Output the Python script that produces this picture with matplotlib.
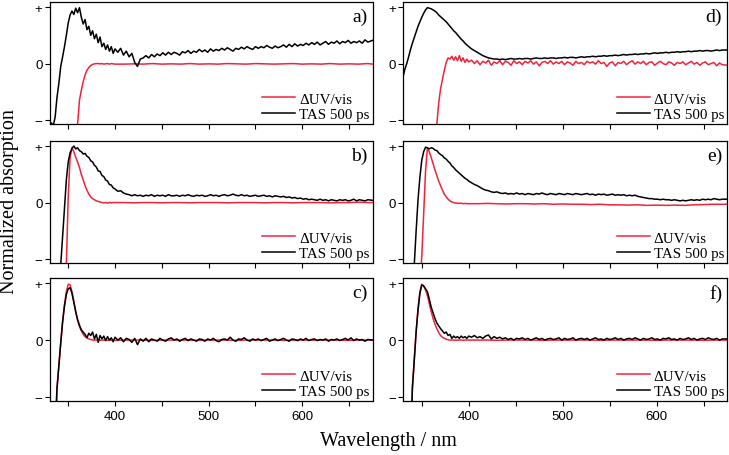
import numpy as np
import matplotlib
matplotlib.use("Agg")
import matplotlib.pyplot as plt
from matplotlib.ticker import FixedLocator

# ---------------- data ----------------
# wavelength grid for TAS (and noisy dUV in d)
wl_g = [330, 332, 334, 336, 338, 340, 342, 344, 346, 348,
        350, 352, 354, 356, 358, 360, 362, 364, 366, 368,
        370, 372, 374, 376, 378, 380, 382, 384, 386, 388,
        390, 392, 394, 396, 398, 400,
        403, 406, 409, 412, 415, 418, 421, 424, 427, 430,
        433, 436, 439, 442, 445, 448, 451, 454, 457, 460,
        463, 466, 469, 472, 475, 478, 481, 484, 487, 490,
        493, 496, 499, 502, 505, 508, 511, 514, 517, 520,
        523, 526, 529, 532, 535, 538, 541, 544, 547, 550,
        553, 556, 559, 562, 565, 568, 571, 574, 577, 580,
        583, 586, 589, 592, 595, 598, 601, 604, 607, 610,
        613, 616, 619, 622, 625, 628, 631, 634, 637, 640,
        643, 646, 649, 652, 655, 658, 661, 664, 667, 670,
        675]
# wavelength grid for smooth dUV/vis traces
wl_r = [330, 332, 334, 336, 338, 340, 342, 344, 346, 348,
        350, 352, 354, 356, 358, 360, 362, 364, 366, 368,
        370, 372, 374, 376, 378, 380, 382, 384, 386, 388,
        390, 392, 394, 396, 398, 400,
        410, 420, 430, 440, 450, 460, 470, 480, 490, 500,
        510, 520, 530, 540, 550, 560, 570, 580, 590, 600,
        610, 620, 630, 640, 650, 660, 670,
        675]

tas_a = [-1.2, -1.05, -1.1, -0.95, -0.6, -0.35, -0.05, 0.12, 0.3, 0.5,
         0.72, 0.86, 0.93, 0.87, 0.98, 0.9, 0.99, 0.82, 0.7, 0.78,
         0.6, 0.66, 0.5, 0.58, 0.44, 0.52, 0.37, 0.47, 0.3, 0.36,
         0.25, 0.33, 0.22, 0.3, 0.18, 0.26,
         0.2, 0.27, 0.15, 0.22, 0.12, 0.18, 0.02, -0.05, 0.08, 0.1,
         0.14, 0.1, 0.16, 0.12, 0.17, 0.14, 0.19, 0.15, 0.2, 0.16,
         0.2, 0.18, 0.15, 0.21, 0.19, 0.23, 0.18, 0.22, 0.2, 0.25,
         0.21, 0.24, 0.2, 0.26, 0.22, 0.25, 0.23, 0.27, 0.24, 0.28,
         0.25, 0.22, 0.27, 0.25, 0.29, 0.26, 0.3, 0.27, 0.25, 0.3,
         0.27, 0.3, 0.28, 0.32, 0.29, 0.27, 0.31, 0.28, 0.3, 0.33,
         0.29, 0.34, 0.3, 0.35, 0.31, 0.34, 0.32, 0.36, 0.33, 0.37,
         0.34, 0.38, 0.33, 0.36, 0.39, 0.34, 0.38, 0.36, 0.4, 0.35,
         0.39, 0.37, 0.41, 0.36, 0.39, 0.37, 0.4, 0.36, 0.42, 0.38,
         0.41]
uv_a = [-2, -2, -2, -2, -2, -2, -2, -2, -2, -2,
        -2, -2, -2, -2, -2, -1.08, -0.65, -0.47, -0.32, -0.2,
        -0.12, -0.07, -0.035, -0.015, -0.005, 0.0, 0.0, -0.005, 0.0, -0.01,
        -0.005, 0.0, -0.01, 0.0, -0.005, -0.01,
        -0.01, -0.005, -0.01, 0.0, -0.01, -0.005, -0.01, 0.0, -0.01, -0.005,
        -0.01, 0.0, -0.005, -0.01, 0.0, -0.005, -0.01, -0.005, 0.0, -0.01,
        -0.005, -0.01, 0.0, -0.01, -0.005, -0.01, 0.0,
        -0.01]

tas_b = [-2, -2, -2, -2, -2, -2, -1.1, -0.6, -0.1, 0.4,
         0.72, 0.88, 0.96, 1.0, 0.95, 0.97, 0.92, 0.9, 0.86, 0.87,
         0.82, 0.8, 0.74, 0.72, 0.66, 0.63, 0.56, 0.55, 0.48, 0.46,
         0.4, 0.38, 0.32, 0.31, 0.26, 0.24,
         0.2, 0.21, 0.17, 0.15, 0.14, 0.12, 0.14, 0.12, 0.13, 0.11,
         0.13, 0.12, 0.14, 0.11, 0.13, 0.12, 0.13, 0.11, 0.14, 0.12,
         0.12, 0.13, 0.11, 0.13, 0.12, 0.14, 0.12, 0.11, 0.13, 0.12,
         0.13, 0.11, 0.12, 0.14, 0.12, 0.13, 0.11, 0.13, 0.14, 0.12,
         0.13, 0.15, 0.13, 0.12, 0.14, 0.12, 0.13, 0.11, 0.12, 0.13,
         0.11, 0.12, 0.13, 0.11, 0.12, 0.1, 0.12, 0.11, 0.1, 0.11,
         0.09, 0.1, 0.08, 0.09, 0.07, 0.08, 0.06, 0.07, 0.05, 0.06,
         0.05, 0.04, 0.06, 0.04, 0.05, 0.03, 0.05, 0.04, 0.03, 0.05,
         0.04, 0.05, 0.03, 0.04, 0.06, 0.03, 0.05, 0.04, 0.03, 0.05,
         0.04]
uv_b = [-2, -2, -2, -2, -2, -2, -2, -2, -2, -1.1,
        0.1, 0.8, 0.97, 0.9, 0.8, 0.72, 0.62, 0.5, 0.4, 0.3,
        0.22, 0.15, 0.1, 0.07, 0.05, 0.03, 0.02, 0.01, 0.0, -0.005,
        0.0, -0.01, 0.0, -0.005, 0.0, 0.0,
        0.0, -0.005, 0.0, 0.0, -0.005, 0.0, 0.0, -0.005, 0.0, 0.0,
        0.0, -0.005, 0.0, 0.0, 0.0, -0.005, 0.0, 0.0, -0.005, 0.0,
        0.0, 0.0, -0.005, 0.0, 0.0, 0.005, 0.0,
        0.0]

tas_c = [-2, -2, -2, -2, -0.85, -0.45, -0.05, 0.32, 0.6, 0.8,
         0.9, 0.92, 0.82, 0.66, 0.5, 0.36, 0.26, 0.18, 0.14, 0.1,
         0.04, 0.12, 0.08, 0.14, 0.02, 0.1, -0.04, 0.08, 0.02, 0.07,
         -0.01, 0.06, 0.0, 0.04, -0.03, 0.05,
         0.0, 0.04, -0.03, 0.03, 0.01, -0.04, 0.03, -0.08, 0.02, -0.02,
         0.03, -0.03, 0.02, 0.0, -0.02, 0.03, 0.0, -0.02, 0.02, 0.04,
         0.0, 0.02, -0.02, 0.01, 0.03, -0.01, 0.02, 0.0, -0.02, 0.02,
         0.01, -0.02, 0.02, 0.0, 0.03, -0.01, -0.03, 0.01, 0.02, 0.0,
         0.05, 0.0, -0.02, 0.02, 0.01, 0.04, 0.0, -0.02, 0.02, 0.0,
         0.02, -0.01, 0.01, 0.03, -0.02, 0.0, 0.02, -0.01, 0.01, 0.03,
         0.0, -0.02, 0.02, 0.01, -0.01, 0.02, 0.0, 0.03, -0.01, 0.01,
         0.02, -0.01, 0.01, 0.0, 0.02, -0.02, 0.01, 0.0, 0.02, -0.01,
         0.01, 0.03, 0.0, 0.04, -0.01, 0.02, 0.0, 0.01, -0.02, 0.01,
         0.0]
uv_c = [-2, -2, -2, -1.4, -0.85, -0.45, -0.05, 0.32, 0.62, 0.85,
        0.98, 0.97, 0.85, 0.68, 0.5, 0.35, 0.24, 0.16, 0.1, 0.06,
        0.04, 0.02, 0.01, 0.0, 0.0, 0.0, 0.0, -0.005, 0.0, 0.0,
        0.0, -0.005, 0.0, 0.0, 0.0, -0.005,
        0.0, 0.0, 0.0, -0.005, 0.0, 0.0, 0.0, 0.0, -0.005, 0.0,
        0.0, 0.0, -0.005, 0.0, 0.0, 0.0, 0.0, -0.005, 0.0, 0.0,
        0.0, 0.0, 0.0, 0.0, -0.005, 0.0, 0.0,
        0.0]

tas_d = [-0.24, -0.1, 0.0, 0.12, 0.25, 0.36, 0.46, 0.56, 0.66, 0.74,
         0.82, 0.89, 0.95, 0.99, 0.98, 0.97, 0.95, 0.93, 0.9, 0.86,
         0.83, 0.8, 0.77, 0.74, 0.7, 0.66, 0.62, 0.58, 0.55, 0.51,
         0.47, 0.43, 0.4, 0.36, 0.33, 0.3,
         0.26, 0.23, 0.2, 0.17, 0.14, 0.12, 0.1, 0.09, 0.08, 0.08,
         0.07, 0.08, 0.07, 0.08, 0.09, 0.08, 0.08, 0.09, 0.08, 0.09,
         0.09, 0.08, 0.09, 0.1, 0.09, 0.09, 0.1, 0.09, 0.1, 0.1,
         0.09, 0.1, 0.1, 0.11, 0.1, 0.11, 0.11, 0.1, 0.11, 0.12,
         0.11, 0.12, 0.12, 0.13, 0.12, 0.13, 0.13, 0.14, 0.13, 0.14,
         0.14, 0.15, 0.14, 0.15, 0.16, 0.15, 0.16, 0.16, 0.17, 0.16,
         0.17, 0.17, 0.18, 0.17, 0.18, 0.19, 0.18, 0.19, 0.19, 0.2,
         0.19, 0.2, 0.2, 0.21, 0.2, 0.21, 0.21, 0.22, 0.21, 0.22,
         0.22, 0.23, 0.22, 0.23, 0.23, 0.22, 0.23, 0.24, 0.23, 0.24,
         0.24]
uv_d = [-2, -2, -2, -2, -2, -2, -2, -2, -2, -2,
        -2, -2, -2, -2, -2, -2, -2, -2, -1.08, -0.7,
        -0.45, -0.28, -0.12, 0.02, 0.1, 0.08, 0.13, 0.06, 0.12, 0.05,
        0.14, 0.04, 0.1, 0.02, 0.08, 0.03,
        0.06, 0.0, 0.05, -0.02, 0.04, 0.01, 0.06, -0.03, 0.03, 0.0,
        0.05, -0.02, 0.04, 0.02, -0.03, 0.05, 0.0, 0.03, -0.02, 0.04,
        0.01, 0.05, -0.01, 0.03, -0.04, 0.02, 0.04, 0.0, 0.05, -0.01,
        0.03, 0.0, 0.04, -0.02, 0.03, 0.01, -0.03, 0.04, 0.0, 0.02,
        -0.02, 0.04, 0.01, 0.03, -0.01, 0.05, 0.0, 0.02, -0.05, 0.01,
        0.03, -0.04, 0.02, 0.0, 0.04, -0.02, 0.02, 0.05, -0.01, 0.03,
        0.0, 0.04, -0.02, 0.02, 0.03, -0.03, 0.01, 0.04, 0.0, -0.02,
        0.03, 0.01, -0.03, 0.02, 0.0, 0.03, -0.02, 0.01, 0.04, -0.01,
        0.02, -0.03, 0.01, 0.03, -0.02, 0.0, 0.02, -0.04, 0.01, -0.02,
        -0.03]

tas_e = [-2, -2, -2, -2, -2, -2, -1.1, -0.5, 0.05, 0.45,
         0.75, 0.9, 0.98, 0.97, 0.95, 0.97, 0.96, 0.93, 0.92, 0.88,
         0.85, 0.83, 0.79, 0.77, 0.73, 0.7, 0.65, 0.62, 0.58, 0.55,
         0.52, 0.49, 0.46, 0.43, 0.41, 0.38,
         0.35, 0.32, 0.3, 0.27, 0.24, 0.22, 0.21, 0.19, 0.18, 0.19,
         0.17, 0.16, 0.17, 0.15, 0.16, 0.15, 0.17, 0.15, 0.16, 0.14,
         0.16, 0.15, 0.14, 0.16, 0.15, 0.17, 0.15, 0.14, 0.16, 0.15,
         0.14, 0.16, 0.15, 0.14, 0.16, 0.15, 0.14, 0.16, 0.15, 0.14,
         0.15, 0.16, 0.14, 0.15, 0.13, 0.15, 0.14, 0.15, 0.13, 0.14,
         0.15, 0.13, 0.14, 0.13, 0.14, 0.12, 0.13, 0.12, 0.13, 0.11,
         0.1, 0.09, 0.08, 0.07, 0.07, 0.06, 0.06, 0.05, 0.06, 0.05,
         0.05, 0.04, 0.05, 0.04, 0.03, 0.04, 0.03, 0.04, 0.05, 0.04,
         0.05, 0.04, 0.06, 0.05, 0.06, 0.05, 0.07, 0.06, 0.05, 0.06,
         0.06]
uv_e = [-2, -2, -2, -2, -2, -2, -2, -2, -2, -1.5,
        -0.95, -0.2, 0.55, 0.97, 0.9, 0.8, 0.69, 0.58, 0.48, 0.38,
        0.3, 0.22, 0.15, 0.1, 0.06, 0.03, 0.01, 0.0, -0.01, -0.01,
        -0.015, -0.01, -0.02, -0.015, -0.02, -0.02,
        -0.02, -0.015, -0.02, -0.025, -0.02, -0.02, -0.025, -0.02, -0.03, -0.025,
        -0.03, -0.03, -0.035, -0.03, -0.04, -0.04, -0.045, -0.04, -0.05, -0.045,
        -0.05, -0.045, -0.05, -0.04, -0.035, -0.03, -0.03,
        -0.03]

tas_f = [-2, -2, -2, -2, -2, -0.84, -0.35, 0.15, 0.53, 0.82,
         0.97, 0.95, 0.9, 0.85, 0.72, 0.58, 0.48, 0.38, 0.3, 0.25,
         0.2, 0.16, 0.12, 0.14, 0.08, 0.1, 0.03, 0.07, 0.04, 0.06,
         0.03, 0.07, 0.04, 0.06, 0.03, 0.07,
         0.05, 0.08, 0.04, 0.06, 0.03, 0.07, 0.09, 0.02, 0.06, 0.03,
         0.05, 0.02, 0.04, 0.01, 0.03, 0.0, 0.03, 0.02, 0.04, 0.01,
         0.03, 0.0, 0.02, 0.04, 0.01, 0.03, 0.0, 0.02, 0.03, 0.01,
         0.02, 0.04, 0.0, 0.03, 0.01, 0.02, 0.04, 0.0, 0.02, 0.03,
         0.01, 0.03, 0.0, 0.02, 0.04, 0.01, 0.02, 0.0, 0.03, 0.01,
         0.02, 0.04, 0.01, 0.03, 0.0, 0.02, 0.03, 0.01, 0.04, 0.02,
         0.0, 0.03, 0.01, 0.02, 0.04, 0.01, 0.02, 0.0, 0.03, 0.02,
         0.04, 0.01, 0.02, 0.0, 0.03, 0.01, 0.02, 0.04, 0.01, 0.03,
         0.0, 0.02, 0.03, 0.01, 0.04, 0.02, 0.01, 0.03, 0.0, 0.02,
         0.02]
uv_f = [-2, -2, -2, -2, -2, -0.84, -0.35, 0.15, 0.55, 0.85,
        0.98, 0.95, 0.88, 0.78, 0.64, 0.5, 0.38, 0.28, 0.2, 0.13,
        0.08, 0.05, 0.03, 0.015, 0.005, 0.0, 0.0, 0.0, -0.005, 0.0,
        0.0, 0.0, -0.005, 0.0, 0.0, 0.0,
        0.0, 0.0, -0.005, 0.0, 0.0, 0.0, 0.0, -0.005, 0.0, 0.0,
        0.0, 0.0, 0.0, -0.005, 0.0, 0.0, 0.0, 0.0, 0.0, -0.005,
        0.0, 0.0, 0.0, 0.0, -0.005, 0.0, 0.0,
        0.0]

panel_labels = ["a)", "b)", "c)", "d)", "e)", "f)"]
legend_labels = ["\u0394UV/vis", "TAS 500 ps"]
x_major = [400, 500, 600]
x_minor = [350, 450, 550, 650]
y_ticks = [-1, 0, 1]
y_ticklabels = ["\u2212", "0", "+"]

uv_sets = [(wl_r, uv_a), (wl_r, uv_b), (wl_r, uv_c),
           (wl_g, uv_d), (wl_r, uv_e), (wl_r, uv_f)]
tas_sets = [tas_a, tas_b, tas_c, tas_d, tas_e, tas_f]

# ---------------- figure ----------------
RED = "#f0243c"
SERIF = ["Liberation Serif", "DejaVu Serif"]
SANS = ["Liberation Sans", "DejaVu Sans"]

fig = plt.figure(figsize=(7.29, 4.56), dpi=100)
W, H = 729.0, 456.0
cols = [(49.5, 372.5), (403.0, 727.0)]
rows = [(3.0, 125.0), (142.0, 264.0), (279.0, 402.0)]

for i in range(6):
    c = i // 3
    r = i % 3
    x0, x1 = cols[c]
    y0, y1 = rows[r]
    ax = fig.add_axes([x0 / W, 1 - y1 / H, (x1 - x0) / W, (y1 - y0) / H])
    xu, yu = uv_sets[i]
    ax.plot(xu, yu, color=RED, lw=1.1, label=legend_labels[0])
    ax.plot(wl_g, tas_sets[i], color="black", lw=1.1, label=legend_labels[1])
    ax.set_xlim(330, 675)
    ax.set_ylim(-1.07, 1.09)
    ax.xaxis.set_major_locator(FixedLocator(x_major))
    ax.xaxis.set_minor_locator(FixedLocator(x_minor))
    ax.set_yticks(y_ticks)
    ax.set_yticklabels(y_ticklabels)
    ax.tick_params(axis="both", which="both", direction="out", length=3.5,
                   width=0.8, pad=1.5, labelsize=9.5)
    ax.tick_params(axis="x", which="major", pad=3)
    for lab in ax.get_yticklabels() + ax.get_xticklabels():
        lab.set_family(SANS)
    if r < 2:
        ax.tick_params(axis="x", labelbottom=False)
    for s in ax.spines.values():
        s.set_linewidth(0.9)
    ax.text(0.985, 0.95, panel_labels[i], transform=ax.transAxes,
            ha="right", va="top", fontsize=14, family=SERIF)
    leg = ax.legend(loc="lower right", frameon=False,
                    prop={"family": SERIF, "size": 10.8},
                    handlelength=2.2, handletextpad=0.25, labelspacing=0.12,
                    borderaxespad=0.1, borderpad=0.1)

fig.text(10 / W, 1 - 202 / H, "Normalized absorption", rotation=90,
         ha="center", va="center", fontsize=14.5, family=SERIF)
fig.text(388 / W, 1 - 442 / H, "Wavelength / nm", ha="center",
         va="center", fontsize=14.5, family=SERIF)

fig.savefig("out.png", dpi=100)
